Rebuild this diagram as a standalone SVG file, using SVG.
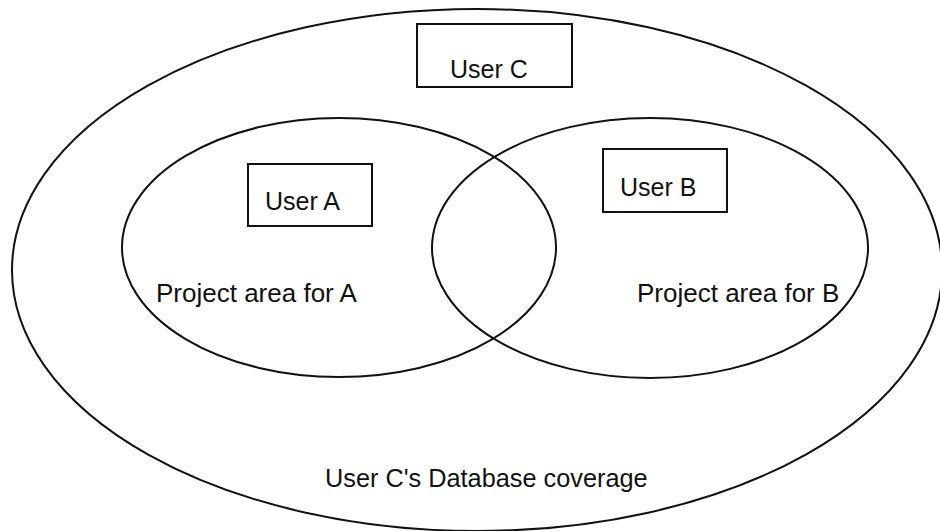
<svg xmlns="http://www.w3.org/2000/svg" width="940" height="531" viewBox="0 0 940 531">
<style>
.shape{fill:none;stroke:#111;stroke-width:2}
.box{fill:none;stroke:#111;stroke-width:2}
.lbl{font-family:"Liberation Sans",Arial,sans-serif;font-size:25px;fill:#111}
.big{font-size:26px}
</style>
<rect width="940" height="531" fill="#fff"/>
<g id="coverageC">
<ellipse class="shape" cx="477" cy="270" rx="465" ry="261"/>
<text class="lbl" x="325" y="487" style="font-size:25.3px">User C's Database coverage</text>
</g>
<g id="areaA">
<ellipse class="shape" cx="339" cy="247.5" rx="217" ry="129.5"/>
<text class="lbl big" x="156" y="302">Project area for A</text>
</g>
<g id="areaB">
<ellipse class="shape" cx="650" cy="248" rx="218" ry="130"/>
<text class="lbl big" x="637" y="302">Project area for B</text>
</g>
<g id="userC">
<rect class="box" x="417" y="24" width="155" height="63"/>
<text class="lbl" x="450" y="78">User C</text>
</g>
<g id="userA">
<rect class="box" x="248" y="164" width="124" height="62"/>
<text class="lbl" x="265" y="210">User A</text>
</g>
<g id="userB">
<rect class="box" x="603" y="149" width="124" height="63"/>
<text class="lbl" x="620" y="196">User B</text>
</g>
<g id="connectors"></g>
</svg>
